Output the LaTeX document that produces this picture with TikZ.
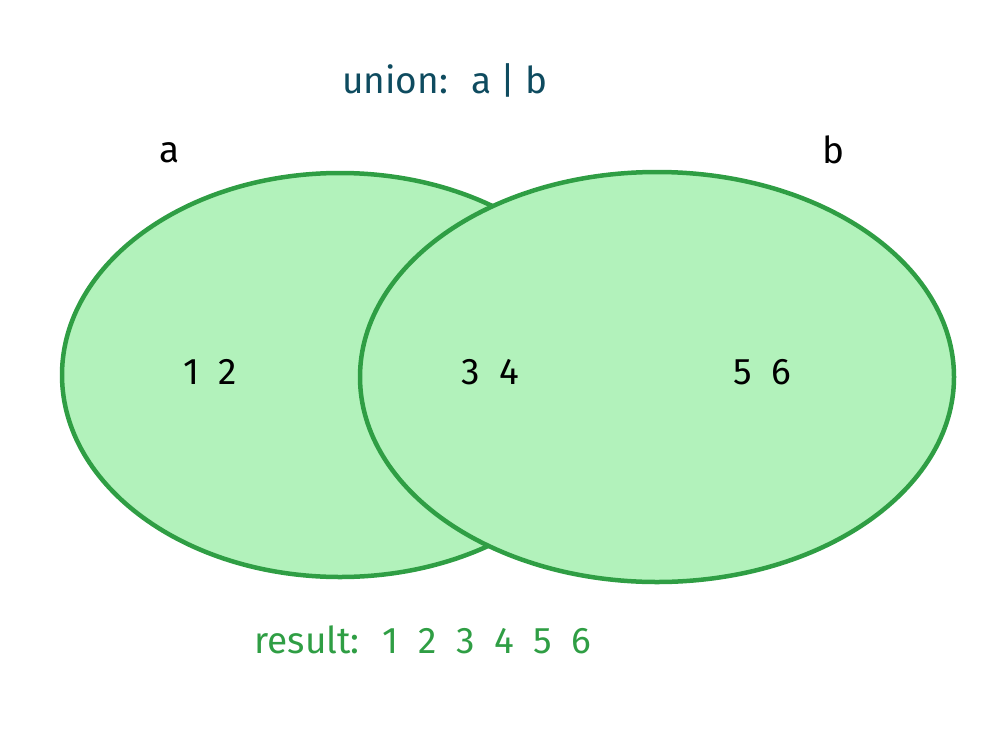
\documentclass[tikz,border=0pt]{standalone}
\usepackage{fontspec}
\setmainfont{Fira Sans}
\usetikzlibrary{shapes.geometric}
\definecolor{setgreen}{HTML}{2F9E44}
\definecolor{setfill}{HTML}{B2F2BB}
\definecolor{titleteal}{HTML}{0E4B5F}
\tikzset{
  setshape/.style={ellipse, draw=setgreen, fill=setfill, line width=4.5pt, inner sep=0pt},
  setlabel/.style={font=\fontsize{37}{44}\selectfont, text=black},
}
\begin{document}
\begin{tikzpicture}[x=1pt, y=-1pt]
\useasboundingbox (0,0) rectangle (1000,728);

% the two sets, b on top of a
\node[setshape, minimum width=556pt, minimum height=404pt] (setA) at (340,375) {};
\node[setshape, minimum width=594pt, minimum height=410pt] (setB) at (657,377) {};

% titles
\node[setlabel, text=titleteal] (title) at (445,80) {union:~ a | b};
\node[setlabel] (nameA) at (170,153) {a};
\node[setlabel] (nameB) at (833,150) {b};

% elements
\node[setlabel] (onlyA) at (210,372) {1~ 2};
\node[setlabel] (both) at (490,372) {3~ 4};
\node[setlabel] (onlyB) at (762,372) {5~ 6};

\node[setlabel, text=setgreen] (result) at (423,640) {result:~ 1~ 2~ 3~ 4~ 5~ 6};
\end{tikzpicture}
\end{document}
